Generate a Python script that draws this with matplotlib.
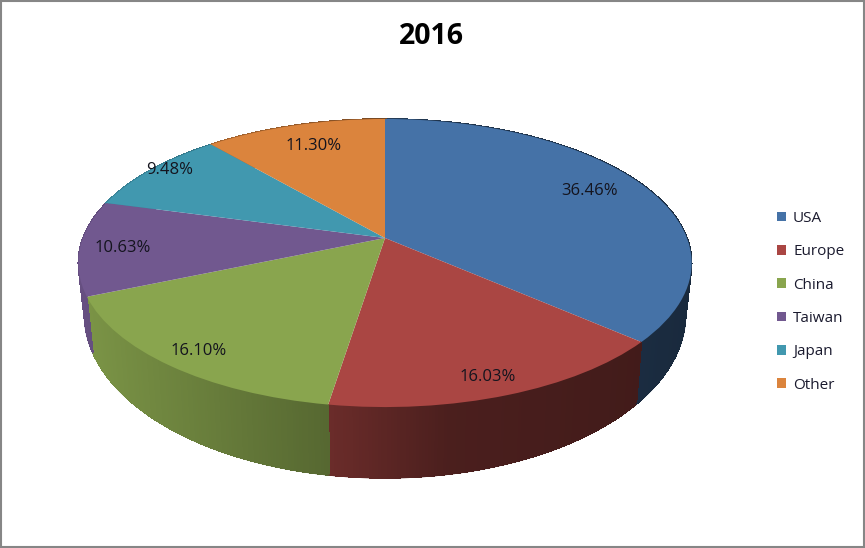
import numpy as np
from matplotlib import pyplot as plt
from matplotlib.collections import LineCollection, PolyCollection
from matplotlib.colors import to_rgb
from matplotlib.patches import Rectangle
from matplotlib.transforms import Transform

regions = ["USA", "Europe", "China", "Taiwan", "Japan", "Other"]
shares = [36.46, 16.03, 16.10, 10.63, 9.48, 11.30]
colors = ["#4572A7", "#AA4643", "#89A54E", "#71588F", "#4198AF", "#DB843D"]
# pixel centres of the percent labels, Excel "best fit" puts them unevenly
label_xy = [(590, 191), (488, 377), (199, 351), (123, 248), (170, 170), (314, 146)]

# pie geometry in image pixels
CX, CY = 385, 238
RX, RY, K = 302, 139.7, 0.1736


class Perspective(Transform):
    """Tilted unit circle -> image pixels, the far side gets smaller"""
    input_dims = 2
    output_dims = 2
    is_separable = False
    has_inverse = False

    def transform_non_affine(self, values):
        values = np.asarray(values, dtype=float)
        d = 1 + K * values[:, 1]
        return np.column_stack([CX + RX * values[:, 0] / d, CY - RY * values[:, 1] / d])


def lower_rim(px):
    # bottom edge of the wall under a point of the top rim
    x = CX + 0.98 * (px[:, 0] - CX)
    y = CY + 1.135 * (px[:, 1] - CY) + 48
    return np.column_stack([x, y])


def wall_shade(x):
    # walls are lit from the left
    return np.interp(x, [80, 328, 450, 640, 700], [0.90, 0.63, 0.44, 0.39, 0.36])


fig = plt.figure(figsize=(8.65, 5.48), dpi=100)
plt.rcParams["font.family"] = ["Open Sans", "DejaVu Sans"]
ax = fig.add_axes([0, 0, 1, 1])
persp = Perspective()

wedges, _, autotexts = ax.pie(shares, colors=colors, startangle=90, counterclock=False,
                              autopct="%.2f%%", wedgeprops={"linewidth": 0.3})
ax.set_aspect("auto")
ax.set_xlim(0, 865)
ax.set_ylim(548, 0)
ax.axis("off")

# side walls, cut in thin strips for the gradient
edges = 90 - 360 * np.cumsum([0] + shares) / np.sum(shares)
for i, color in enumerate(colors):
    theta = np.radians(np.arange(edges[i], edges[i + 1] - 0.5, -0.5))
    top = persp.transform(np.column_stack([np.cos(theta), np.sin(theta)]))
    low = lower_rim(top)
    polys = [[top[j], top[j + 1], low[j + 1], low[j]] for j in range(len(theta) - 1)]
    shade = wall_shade(top[:-1, 0])[:, None]
    strip_colors = np.array(to_rgb(color)) * shade
    ax.add_collection(PolyCollection(polys, facecolors=strip_colors, edgecolors=strip_colors,
                                     linewidths=0.5, antialiaseds=False, zorder=0.5))
    # smooth line along the bottom so the unsmoothed strips do not look jagged
    rim = [[low[j], low[j + 1]] for j in range(len(theta) - 1)]
    ax.add_collection(LineCollection(rim, colors=strip_colors, linewidths=1.0, zorder=0.6))

for wedge, text, xy in zip(wedges, autotexts, label_xy):
    wedge.set_transform(persp + ax.transData)
    wedge.set_clip_on(False)
    wedge.set_zorder(1)
    text.set_position(xy)
    text.set_fontsize(12)
    text.set_color("#14141e")
    text.set_ha("center")
    text.set_va("center")

ax.text(431, 36, "2016", fontsize=20.5, fontweight="bold", color="#000000",
        ha="center", va="center")

ax.legend(wedges, regions, loc="upper left", bbox_to_anchor=(777, 211),
          bbox_transform=ax.transData, frameon=False, fontsize=11,
          handlelength=0.6, handleheight=0.6, handletextpad=0.45,
          labelspacing=1.2, borderpad=0, borderaxespad=0, labelcolor="#1a1a2e")

# outer frame of the chart
ax.add_patch(Rectangle((0.5, 0.5), 863, 546, fill=False, edgecolor="#868686",
                       linewidth=1.5, clip_on=False, zorder=5))

plt.savefig("out.png", dpi=100)
